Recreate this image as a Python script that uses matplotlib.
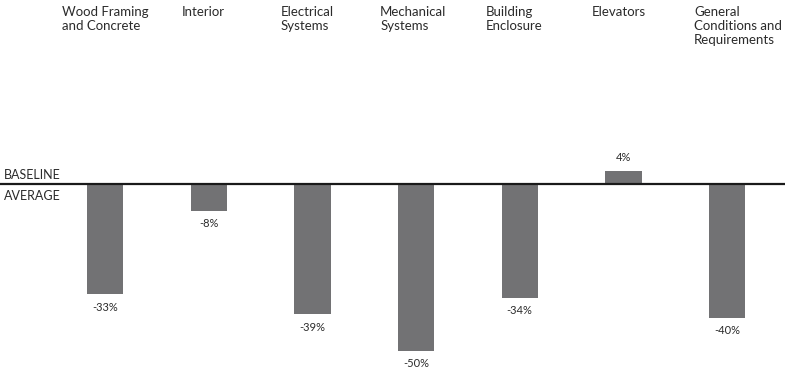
import matplotlib.pyplot as plt
import matplotlib.transforms as mtransforms

categories = [
    "Wood Framing\nand Concrete",
    "Interior",
    "Electrical\nSystems",
    "Mechanical\nSystems",
    "Building\nEnclosure",
    "Elevators",
    "General\nConditions and\nRequirements",
]
values = [-33, -8, -39, -50, -34, 4, -40]
value_labels = ["-33%", "-8%", "-39%", "-50%", "-34%", "4%", "-40%"]

# left edge of each category label, relative to its bar centre (pixels)
label_shift = [-43, -27, -32, -36, -34, -32, -33]

plt.rcParams["font.family"] = ["Lato", "DejaVu Sans"]

fig = plt.figure(figsize=(7.85, 3.7), dpi=100)
ax = fig.add_axes([0, 0, 1, 1])

x = list(range(len(values)))
ax.bar(x, values, width=0.35, color="#727274", zorder=2)
ax.axhline(0, color="#1a1a1a", linewidth=1.6, zorder=3)

ax.set_xlim(-1.013, 6.559)
ax.set_ylim(-55.7, 55.1)
ax.axis("off")

trans = mtransforms.blended_transform_factory(ax.transData, ax.transAxes)
for i, name in enumerate(categories):
    ax.annotate(name, (i, 0.985), xycoords=trans,
                xytext=(label_shift[i] * 0.72, 0), textcoords="offset points",
                ha="left", va="top", fontsize=9.5, color="#2b2b2b",
                linespacing=1.2)

for i, (v, lab) in enumerate(zip(values, value_labels)):
    off = -13 if v < 0 else 13
    ax.annotate(lab, (i, v), xytext=(0, off * 0.72), textcoords="offset points",
                ha="center", va="center", fontsize=8, color="#2b2b2b")

ylab = ax.get_yaxis_transform()
ax.annotate("BASELINE", (0, 0), xycoords=ylab, xytext=(3, 2),
            textcoords="offset points", ha="left", va="bottom", fontsize=9,
            color="#2b2b2b")
ax.annotate("AVERAGE", (0, 0), xycoords=ylab, xytext=(3, -4.5),
            textcoords="offset points", ha="left", va="top", fontsize=9,
            color="#2b2b2b")

fig.savefig("out.png", dpi=100)
